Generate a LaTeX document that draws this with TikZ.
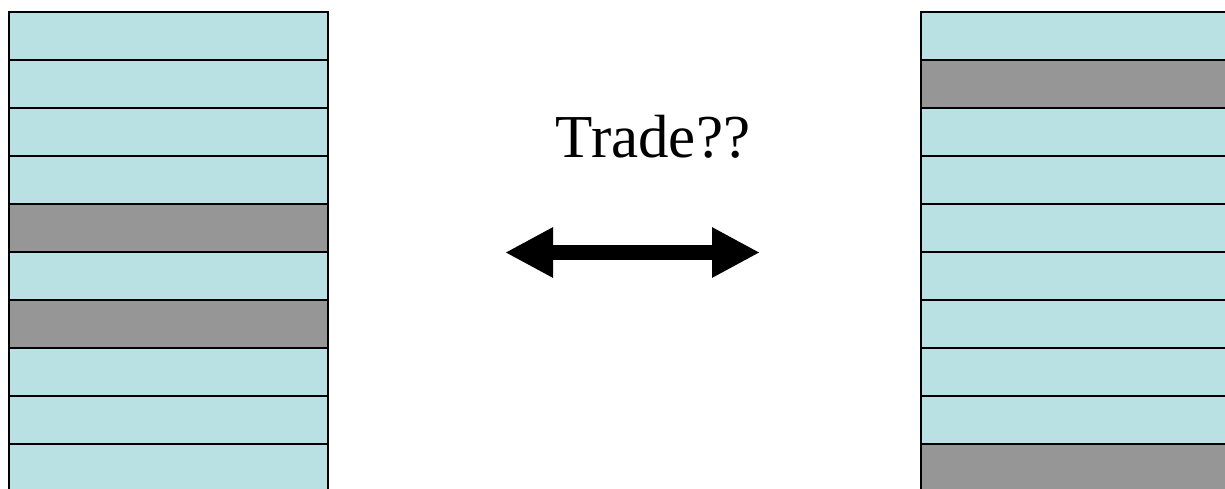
\documentclass[tikz,border=0pt]{standalone}
\usepackage{fontspec}
\setmainfont{Liberation Serif}
\usetikzlibrary{arrows.meta}
\definecolor{rowblue}{RGB}{185,224,227}
\definecolor{rowgray}{RGB}{150,150,150}
\tikzset{
  rowbox/.style={draw=black, line width=2pt, fill=rowblue},
  graybox/.style={draw=black, line width=2pt, fill=rowgray},
  bigarrow/.style={line width=15pt, {Triangle[length=48pt,width=47pt]}-{Triangle[length=48pt,width=47pt]}}
}
\begin{document}
\begin{tikzpicture}[x=1pt,y=-1pt]
\useasboundingbox (0,0) rectangle (1225,488);
\begin{scope}
\clip (0,0) rectangle (1225,488);
% left column
\foreach \i in {0,...,9} {
  \pgfmathsetmacro{\ya}{12+48*\i}
  \pgfmathsetmacro{\yb}{60+48*\i}
  \ifnum\i=4 \def\st{graybox}\else\ifnum\i=6 \def\st{graybox}\else\def\st{rowbox}\fi\fi
  \path[\st] (9,\ya) rectangle (328,\yb);
}
% right column
\foreach \i in {0,...,9} {
  \pgfmathsetmacro{\ya}{12+48*\i}
  \pgfmathsetmacro{\yb}{60+48*\i}
  \ifnum\i=1 \def\st{graybox}\else\ifnum\i=9 \def\st{graybox}\else\def\st{rowbox}\fi\fi
  \path[\st] (921,\ya) rectangle (1240,\yb);
}
\end{scope}
\node[font=\fontsize{61}{70}\selectfont, anchor=base] (trade) at (653,157) {Trade??};
\coordinate (la) at (505,252.5);
\coordinate (ra) at (760,252.5);
\draw[bigarrow] (la) -- (ra);
\end{tikzpicture}
\end{document}
